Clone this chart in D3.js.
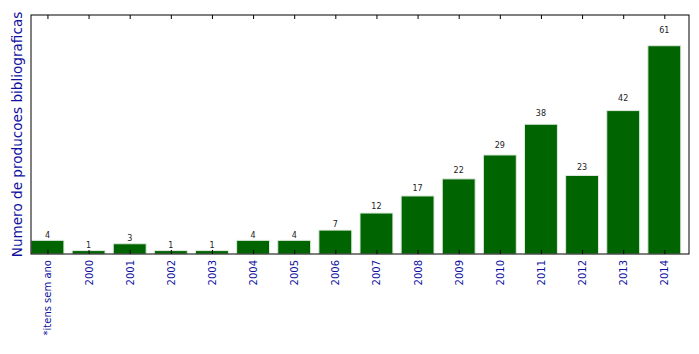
<!DOCTYPE html>
<html>
<head>
<meta charset="utf-8">
<script src="https://cdn.jsdelivr.net/npm/d3@7"></script>
<style>
  body { margin: 0; background: #fff; }
  text { font-family: "DejaVu Sans", sans-serif; }
</style>
</head>
<body>
<div id="chart"></div>
<script>
// categorias e valores
const categories = ["*itens sem ano", "2000", "2001", "2002", "2003", "2004", "2005", "2006",
                    "2007", "2008", "2009", "2010", "2011", "2012", "2013", "2014"];
const values = [4, 1, 3, 1, 1, 4, 4, 7, 12, 17, 22, 29, 38, 23, 42, 61];

const W = 699, H = 354;
const margin = { top: 15, right: 10, bottom: 100, left: 31 };
const width = W - margin.left - margin.right;
const height = H - margin.top - margin.bottom;
const labelColor = "#1010a0";

const svg = d3.select("#chart").append("svg")
    .attr("width", W)
    .attr("height", H)
  .append("g")
    .attr("transform", "translate(" + margin.left + "," + margin.top + ")");

// escala x linear como no matplotlib (barras de largura 0.8)
const x = d3.scaleLinear()
    .domain([-0.4, categories.length - 0.4])
    .range([0, width]);
const y = d3.scaleLinear()
    .domain([0, 70])
    .range([height, 0]);

const barW = x(0.8) - x(0);

// barras
svg.selectAll("rect.bar")
    .data(values)
    .enter()
    .append("rect")
    .attr("class", "bar")
    .attr("x", (d, i) => x(i - 0.4))
    .attr("y", d => y(d))
    .attr("width", barW)
    .attr("height", d => y(0) - y(d))
    .attr("fill", "#006400")
    .attr("stroke", "#dfeadf")
    .attr("stroke-width", 1);

// valores acima das barras
svg.selectAll("text.val")
    .data(values)
    .enter()
    .append("text")
    .attr("class", "val")
    .attr("x", (d, i) => x(i))
    .attr("y", d => y(1.05 * d) - 2)
    .attr("text-anchor", "middle")
    .attr("font-size", "8px")
    .attr("fill", "#222")
    .text(d => d);

// eixo de baixo (ticks para dentro)
const xb = svg.append("g")
    .attr("transform", "translate(0," + height + ")")
    .call(d3.axisBottom(x)
        .tickValues(d3.range(categories.length))
        .tickSizeInner(-4)
        .tickSizeOuter(0)
        .tickFormat((d, i) => categories[i]));
xb.select(".domain").remove();
xb.selectAll(".tick line").attr("stroke", "#000");
xb.selectAll(".tick text")
    .attr("font-family", "DejaVu Sans, sans-serif")
    .attr("font-size", "10px")
    .attr("fill", labelColor)
    .attr("text-anchor", "end")
    .attr("transform", "rotate(-90)")
    .attr("x", -6)
    .attr("y", 0)
    .attr("dy", "0.35em");

// eixo de cima (ticks para dentro)
const xt = svg.append("g")
    .call(d3.axisTop(x)
        .tickValues(d3.range(categories.length))
        .tickSizeInner(-4)
        .tickSizeOuter(0)
        .tickFormat(""));
xt.select(".domain").remove();
xt.selectAll(".tick line").attr("stroke", "#000");

// moldura
svg.append("rect")
    .attr("x", 0)
    .attr("y", 0)
    .attr("width", width)
    .attr("height", height)
    .attr("fill", "none")
    .attr("stroke", "#000")
    .attr("stroke-width", 1);

// rotulo do eixo Y
svg.append("text")
    .attr("text-anchor", "middle")
    .attr("font-size", "13.6px")
    .attr("fill", labelColor)
    .attr("transform", "rotate(-90)")
    .attr("x", -height / 2)
    .attr("y", -9)
    .text("Numero de producoes bibliograficas");
</script>
</body>
</html>
